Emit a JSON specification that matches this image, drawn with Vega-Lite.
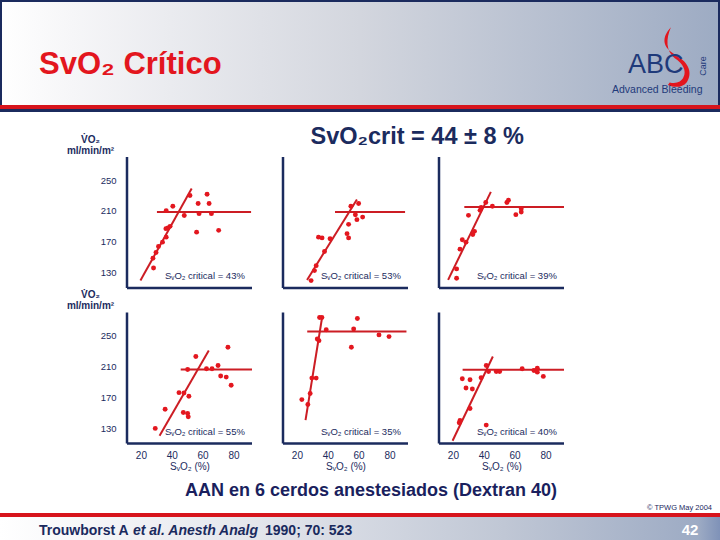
{
  "$schema": "https://vega.github.io/schema/vega-lite/v6.json",
  "padding": 0,
  "background": "white",
  "spacing": 0,
  "config": {
    "view": {"stroke": null},
    "font": "Liberation Sans",
    "concat": {"spacing": 0},
    "axis": {"domain": false, "grid": false, "labelFont": "Liberation Sans", "titleFont": "Liberation Sans", "labelColor": "#1b2b5e", "titleColor": "#1b2b5e", "tickColor": "#1b2b5e"}
  },
  "vconcat": [
    {
      "width": 720,
      "height": 124,
      "data": {"values": [{"title": "SvO₂ Crítico", "abc": "ABC", "care": "Care", "ab": "Advanced Bleeding"}]},
      "layer": [
        {
          "mark": {"type": "rect", "fill": {"gradient": "linear", "stops": [{"offset": 0, "color": "#ffffff"}, {"offset": 0.1, "color": "#f6f6f8"}, {"offset": 0.5, "color": "#d3d6de"}, {"offset": 1, "color": "#9dabc3"}]}},
          "encoding": {
            "x": {"datum": 0, "type": "quantitative", "scale": {"domain": [0, 720], "nice": false, "zero": false}, "axis": null},
            "x2": {"datum": 720},
            "y": {"datum": 0, "type": "quantitative", "scale": {"domain": [0, 124], "reverse": true, "nice": false, "zero": false}, "axis": null},
            "y2": {"datum": 105}
          }
        },
        {"mark": {"type": "rect", "fill": "#d7141c"}, "encoding": {"x": {"datum": 0}, "x2": {"datum": 720}, "y": {"datum": 105}, "y2": {"datum": 109}}},
        {"mark": {"type": "rect", "fill": "#1b2b5e"}, "encoding": {"x": {"datum": 0}, "x2": {"datum": 720}, "y": {"datum": 109}, "y2": {"datum": 112}}},
        {"mark": {"type": "rect", "fill": "#1b2b5e"}, "encoding": {"x": {"datum": 0}, "x2": {"datum": 720}, "y": {"datum": 0}, "y2": {"datum": 2}}},
        {"mark": {"type": "rect", "fill": "#1b2b5e"}, "encoding": {"x": {"datum": 0}, "x2": {"datum": 2}, "y": {"datum": 0}, "y2": {"datum": 105}}},
        {"mark": {"type": "rect", "fill": "#1b2b5e"}, "encoding": {"x": {"datum": 718}, "x2": {"datum": 720}, "y": {"datum": 0}, "y2": {"datum": 105}}},
        {
          "mark": {"type": "text", "align": "left", "baseline": "alphabetic", "fontSize": 31, "fontWeight": "bold", "color": "#e3161e", "font": "Liberation Sans"},
          "encoding": {"text": {"field": "title"}, "x": {"datum": 39}, "y": {"datum": 73.5}}
        },
        {
          "mark": {"type": "point", "shape": "M -0.27 -0.99 C -0.58 -0.65 -0.58 -0.33 -0.1 -0.06 C 0.36 0.2 0.45 0.56 0.26 0.84 C 0.1 1.04 -0.16 1.02 -0.37 0.93 L -0.31 0.85 C -0.1 0.9 0.08 0.84 0.15 0.67 C 0.26 0.45 0.13 0.22 -0.14 0.04 C -0.44 -0.2 -0.44 -0.6 -0.27 -0.99 Z", "size": 3600, "filled": true, "color": "#e3161e", "opacity": 1, "strokeWidth": 0},
          "encoding": {"x": {"datum": 679}, "y": {"datum": 57}}
        },
        {
          "mark": {"type": "text", "align": "left", "baseline": "alphabetic", "fontSize": 27, "color": "#1f3a7a", "font": "Liberation Sans"},
          "encoding": {"text": {"field": "abc"}, "x": {"datum": 628}, "y": {"datum": 73}}
        },
        {
          "mark": {"type": "text", "align": "center", "baseline": "middle", "angle": 270, "fontSize": 9, "color": "#1f3a7a", "font": "Liberation Sans"},
          "encoding": {"text": {"field": "care"}, "x": {"datum": 703}, "y": {"datum": 66}}
        },
        {
          "mark": {"type": "text", "align": "left", "baseline": "alphabetic", "fontSize": 10.5, "color": "#1f3a7a", "font": "Liberation Sans"},
          "encoding": {"text": {"field": "ab"}, "x": {"datum": 612}, "y": {"datum": 92.5}}
        }
      ]
    },
    {
      "hconcat": [
        {"width": 66, "height": 10, "data": {"values": [{}]}, "mark": {"type": "point", "opacity": 0}},
        {
          "data": {"values": [
            {"row": 1, "col": 1, "kind": "pt", "x": 28.2, "y": 136},
            {"row": 1, "col": 1, "kind": "pt", "x": 27.8, "y": 148.7},
            {"row": 1, "col": 1, "kind": "pt", "x": 29.8, "y": 156},
            {"row": 1, "col": 1, "kind": "pt", "x": 31.4, "y": 164},
            {"row": 1, "col": 1, "kind": "pt", "x": 34, "y": 169.5},
            {"row": 1, "col": 1, "kind": "pt", "x": 36.4, "y": 176},
            {"row": 1, "col": 1, "kind": "pt", "x": 36.2, "y": 187},
            {"row": 1, "col": 1, "kind": "pt", "x": 37.5, "y": 188},
            {"row": 1, "col": 1, "kind": "pt", "x": 38.9, "y": 190},
            {"row": 1, "col": 1, "kind": "pt", "x": 36.4, "y": 210.4},
            {"row": 1, "col": 1, "kind": "pt", "x": 40.7, "y": 216},
            {"row": 1, "col": 1, "kind": "pt", "x": 48.1, "y": 204},
            {"row": 1, "col": 1, "kind": "pt", "x": 51.8, "y": 230},
            {"row": 1, "col": 1, "kind": "pt", "x": 57.1, "y": 219.6},
            {"row": 1, "col": 1, "kind": "pt", "x": 57.7, "y": 206.5},
            {"row": 1, "col": 1, "kind": "pt", "x": 56.1, "y": 182.5},
            {"row": 1, "col": 1, "kind": "pt", "x": 62.9, "y": 231.7},
            {"row": 1, "col": 1, "kind": "pt", "x": 64.2, "y": 219.6},
            {"row": 1, "col": 1, "kind": "pt", "x": 65.7, "y": 206.5},
            {"row": 1, "col": 1, "kind": "pt", "x": 70.4, "y": 184.8},
            {"row": 1, "col": 1, "kind": "steep", "x": 19.7, "y": 119.6},
            {"row": 1, "col": 1, "kind": "steep", "x": 52.9, "y": 239},
            {"row": 1, "col": 1, "kind": "plateau", "x": 30.4, "y": 208.6},
            {"row": 1, "col": 1, "kind": "plateau", "x": 91.4, "y": 208.6},
            {"row": 1, "col": 1, "kind": "note", "label": "SᵥO₂ critical = 43%"},

            {"row": 1, "col": 2, "kind": "pt", "x": 29.2, "y": 119.6},
            {"row": 1, "col": 2, "kind": "pt", "x": 31.4, "y": 132.6},
            {"row": 1, "col": 2, "kind": "pt", "x": 32.5, "y": 139},
            {"row": 1, "col": 2, "kind": "pt", "x": 37.9, "y": 157.4},
            {"row": 1, "col": 2, "kind": "pt", "x": 34, "y": 176},
            {"row": 1, "col": 2, "kind": "pt", "x": 36.3, "y": 175},
            {"row": 1, "col": 2, "kind": "pt", "x": 41.5, "y": 174},
            {"row": 1, "col": 2, "kind": "pt", "x": 52.5, "y": 180.5},
            {"row": 1, "col": 2, "kind": "pt", "x": 53.5, "y": 175},
            {"row": 1, "col": 2, "kind": "pt", "x": 53.5, "y": 192.6},
            {"row": 1, "col": 2, "kind": "pt", "x": 55, "y": 216},
            {"row": 1, "col": 2, "kind": "pt", "x": 60, "y": 219.6},
            {"row": 1, "col": 2, "kind": "pt", "x": 57.9, "y": 205},
            {"row": 1, "col": 2, "kind": "pt", "x": 58.9, "y": 198.7},
            {"row": 1, "col": 2, "kind": "pt", "x": 62.6, "y": 202},
            {"row": 1, "col": 2, "kind": "steep", "x": 26.6, "y": 120.5},
            {"row": 1, "col": 2, "kind": "steep", "x": 58.9, "y": 224.8},
            {"row": 1, "col": 2, "kind": "plateau", "x": 44.7, "y": 208.5},
            {"row": 1, "col": 2, "kind": "plateau", "x": 90.1, "y": 208.5},
            {"row": 1, "col": 2, "kind": "note", "label": "SᵥO₂ critical = 53%"},

            {"row": 1, "col": 3, "kind": "pt", "x": 22.4, "y": 122.6},
            {"row": 1, "col": 3, "kind": "pt", "x": 22.4, "y": 134.8},
            {"row": 1, "col": 3, "kind": "pt", "x": 24.6, "y": 160.4},
            {"row": 1, "col": 3, "kind": "pt", "x": 26.1, "y": 172.6},
            {"row": 1, "col": 3, "kind": "pt", "x": 28.5, "y": 169.5},
            {"row": 1, "col": 3, "kind": "pt", "x": 32.9, "y": 179.5},
            {"row": 1, "col": 3, "kind": "pt", "x": 34, "y": 183.5},
            {"row": 1, "col": 3, "kind": "pt", "x": 30.1, "y": 204.3},
            {"row": 1, "col": 3, "kind": "pt", "x": 37.6, "y": 210.8},
            {"row": 1, "col": 3, "kind": "pt", "x": 38.3, "y": 214.4},
            {"row": 1, "col": 3, "kind": "pt", "x": 41.3, "y": 220.9},
            {"row": 1, "col": 3, "kind": "pt", "x": 45.6, "y": 216},
            {"row": 1, "col": 3, "kind": "pt", "x": 55, "y": 220.9},
            {"row": 1, "col": 3, "kind": "pt", "x": 56, "y": 224},
            {"row": 1, "col": 3, "kind": "pt", "x": 60.8, "y": 205.2},
            {"row": 1, "col": 3, "kind": "pt", "x": 64.3, "y": 208.6},
            {"row": 1, "col": 3, "kind": "pt", "x": 64.3, "y": 213},
            {"row": 1, "col": 3, "kind": "steep", "x": 16.9, "y": 120.5},
            {"row": 1, "col": 3, "kind": "steep", "x": 44.6, "y": 234.7},
            {"row": 1, "col": 3, "kind": "plateau", "x": 27.4, "y": 215},
            {"row": 1, "col": 3, "kind": "plateau", "x": 92, "y": 215},
            {"row": 1, "col": 3, "kind": "note", "label": "SᵥO₂ critical = 39%"},

            {"row": 2, "col": 1, "kind": "pt", "x": 29.3, "y": 129.6},
            {"row": 2, "col": 1, "kind": "pt", "x": 35.7, "y": 154.5},
            {"row": 2, "col": 1, "kind": "pt", "x": 44.7, "y": 176},
            {"row": 2, "col": 1, "kind": "pt", "x": 47.9, "y": 175.5},
            {"row": 2, "col": 1, "kind": "pt", "x": 51.1, "y": 171.3},
            {"row": 2, "col": 1, "kind": "pt", "x": 47.5, "y": 150.2},
            {"row": 2, "col": 1, "kind": "pt", "x": 50.3, "y": 149},
            {"row": 2, "col": 1, "kind": "pt", "x": 50.7, "y": 144.6},
            {"row": 2, "col": 1, "kind": "pt", "x": 50.3, "y": 206},
            {"row": 2, "col": 1, "kind": "pt", "x": 55.6, "y": 222.9},
            {"row": 2, "col": 1, "kind": "pt", "x": 62.5, "y": 207},
            {"row": 2, "col": 1, "kind": "pt", "x": 66.1, "y": 207},
            {"row": 2, "col": 1, "kind": "pt", "x": 70, "y": 211.3},
            {"row": 2, "col": 1, "kind": "pt", "x": 71.7, "y": 197.5},
            {"row": 2, "col": 1, "kind": "pt", "x": 75.3, "y": 196.2},
            {"row": 2, "col": 1, "kind": "pt", "x": 76.4, "y": 234.9},
            {"row": 2, "col": 1, "kind": "pt", "x": 78.5, "y": 185.5},
            {"row": 2, "col": 1, "kind": "steep", "x": 32.1, "y": 120.1},
            {"row": 2, "col": 1, "kind": "steep", "x": 64, "y": 230.6},
            {"row": 2, "col": 1, "kind": "plateau", "x": 45.8, "y": 206},
            {"row": 2, "col": 1, "kind": "plateau", "x": 92, "y": 206},
            {"row": 2, "col": 1, "kind": "note", "label": "SᵥO₂ critical = 55%"},

            {"row": 2, "col": 2, "kind": "pt", "x": 23.2, "y": 167},
            {"row": 2, "col": 2, "kind": "pt", "x": 27.1, "y": 160.6},
            {"row": 2, "col": 2, "kind": "pt", "x": 28.6, "y": 174.8},
            {"row": 2, "col": 2, "kind": "pt", "x": 29.7, "y": 194.9},
            {"row": 2, "col": 2, "kind": "pt", "x": 32.5, "y": 194.9},
            {"row": 2, "col": 2, "kind": "pt", "x": 33.2, "y": 245.7},
            {"row": 2, "col": 2, "kind": "pt", "x": 34.3, "y": 243.5},
            {"row": 2, "col": 2, "kind": "pt", "x": 34.7, "y": 273.6},
            {"row": 2, "col": 2, "kind": "pt", "x": 36.2, "y": 273.6},
            {"row": 2, "col": 2, "kind": "pt", "x": 39, "y": 257.7},
            {"row": 2, "col": 2, "kind": "pt", "x": 56.8, "y": 258.6},
            {"row": 2, "col": 2, "kind": "pt", "x": 59.2, "y": 272.3},
            {"row": 2, "col": 2, "kind": "pt", "x": 55.3, "y": 234.9},
            {"row": 2, "col": 2, "kind": "pt", "x": 73.2, "y": 250.9},
            {"row": 2, "col": 2, "kind": "pt", "x": 79.7, "y": 248.7},
            {"row": 2, "col": 2, "kind": "steep", "x": 25.6, "y": 140.3},
            {"row": 2, "col": 2, "kind": "steep", "x": 36.4, "y": 274.5},
            {"row": 2, "col": 2, "kind": "plateau", "x": 26.7, "y": 255.5},
            {"row": 2, "col": 2, "kind": "plateau", "x": 91, "y": 255.5},
            {"row": 2, "col": 2, "kind": "note", "label": "SᵥO₂ critical = 35%"},

            {"row": 2, "col": 3, "kind": "pt", "x": 24.1, "y": 136.8},
            {"row": 2, "col": 3, "kind": "pt", "x": 24.6, "y": 140},
            {"row": 2, "col": 3, "kind": "pt", "x": 41.6, "y": 133.9},
            {"row": 2, "col": 3, "kind": "pt", "x": 31.1, "y": 155.4},
            {"row": 2, "col": 3, "kind": "pt", "x": 28.5, "y": 182},
            {"row": 2, "col": 3, "kind": "pt", "x": 32.6, "y": 180.7},
            {"row": 2, "col": 3, "kind": "pt", "x": 26.1, "y": 194.1},
            {"row": 2, "col": 3, "kind": "pt", "x": 31.1, "y": 192.8},
            {"row": 2, "col": 3, "kind": "pt", "x": 38.3, "y": 195.4},
            {"row": 2, "col": 3, "kind": "pt", "x": 41.6, "y": 211.3},
            {"row": 2, "col": 3, "kind": "pt", "x": 43.1, "y": 203.5},
            {"row": 2, "col": 3, "kind": "pt", "x": 48.1, "y": 203.5},
            {"row": 2, "col": 3, "kind": "pt", "x": 50.3, "y": 203.5},
            {"row": 2, "col": 3, "kind": "pt", "x": 64.9, "y": 207},
            {"row": 2, "col": 3, "kind": "pt", "x": 72.5, "y": 204.8},
            {"row": 2, "col": 3, "kind": "pt", "x": 74.7, "y": 207.8},
            {"row": 2, "col": 3, "kind": "pt", "x": 74.7, "y": 202.6},
            {"row": 2, "col": 3, "kind": "pt", "x": 78.6, "y": 197.1},
            {"row": 2, "col": 3, "kind": "steep", "x": 19.8, "y": 113.6},
            {"row": 2, "col": 3, "kind": "steep", "x": 45.9, "y": 222.9},
            {"row": 2, "col": 3, "kind": "plateau", "x": 26.3, "y": 205.7},
            {"row": 2, "col": 3, "kind": "plateau", "x": 92, "y": 205.7},
            {"row": 2, "col": 3, "kind": "note", "label": "SᵥO₂ critical = 40%"}
          ]},
          "title": {"text": "SvO₂crit = 44 ± 8 %", "anchor": "middle", "dx": 100, "offset": -14, "fontSize": 23.5, "fontWeight": "bold", "color": "#1b2b5e", "font": "Liberation Sans"},
          "facet": {
            "row": {"field": "row", "type": "ordinal", "header": {"labels": false, "title": null}},
            "column": {"field": "col", "type": "ordinal", "header": {"labels": false, "title": null}}
          },
          "spacing": {"row": 20.5, "column": 25},
          "spec": {
            "width": 125,
            "height": 131,
            "layer": [
              {
                "transform": [{"filter": "datum.kind === 'note'"}],
                "mark": {"type": "rule", "color": "#1b2b5e", "strokeWidth": 2.5},
                "encoding": {"x": {"datum": 11, "type": "quantitative", "scale": {"domain": [11, 92], "nice": false, "zero": false}}}
              },
              {
                "transform": [{"filter": "datum.kind === 'note'"}],
                "mark": {"type": "rule", "color": "#1b2b5e", "strokeWidth": 2.5},
                "encoding": {"y": {"datum": 110, "type": "quantitative", "scale": {"domain": [110, 280], "nice": false, "zero": false}}}
              },
              {
                "transform": [{"filter": "datum.kind === 'steep' || datum.kind === 'plateau'"}],
                "mark": {"type": "line", "color": "#cc1d24", "strokeWidth": 2},
                "encoding": {
                  "x": {"field": "x", "type": "quantitative"},
                  "y": {"field": "y", "type": "quantitative"},
                  "detail": {"field": "kind"}
                }
              },
              {
                "transform": [{"filter": "datum.kind === 'pt'"}],
                "mark": {"type": "circle", "color": "#e3171f", "size": 24, "opacity": 1},
                "encoding": {
                  "x": {"field": "x", "type": "quantitative", "axis": {
                    "title": "SᵥO₂ (%)", "values": [20, 30, 40, 50, 60, 70, 80],
                    "labelExpr": "datum.value % 20 === 0 ? datum.label : ''",
                    "tickOpacity": {"condition": {"test": "datum.value % 20 === 0", "value": 0}, "value": 1},
                    "tickSize": 5, "tickWidth": 1.5, "labelFontSize": 10, "labelPadding": 0, "titleFontSize": 10, "titleFontWeight": "normal", "titlePadding": 1.5
                  }},
                  "y": {"field": "y", "type": "quantitative", "axis": {
                    "title": ["V̇O₂", "ml/min/m²"], "values": [130, 150, 170, 190, 210, 230, 250],
                    "labelExpr": "(datum.value - 130) % 40 === 0 ? datum.label : ''",
                    "tickOpacity": {"condition": {"test": "(datum.value - 130) % 40 === 0", "value": 0}, "value": 1},
                    "tickSize": 5, "tickWidth": 1.5, "labelFontSize": 9.5, "labelPadding": 4,
                    "titleAngle": 0, "titleAlign": "center", "titleBaseline": "alphabetic", "titleX": -35, "titleY": -15, "titleLineHeight": 11,
                    "titleFontSize": 10, "titleFontWeight": "bold"
                  }}
                }
              },
              {
                "transform": [{"filter": "datum.kind === 'note'"}],
                "mark": {"type": "text", "align": "center", "baseline": "middle", "fontSize": 9.5, "color": "#1b2b5e", "font": "Liberation Sans"},
                "encoding": {"text": {"field": "label"}, "x": {"datum": 61.5}, "y": {"datum": 125}}
              }
            ]
          }
        }
      ]
    },
    {
      "width": 720,
      "height": 70,
      "data": {"values": [{"cap": "AAN en 6 cerdos anestesiados (Dextran 40)", "copy": "© TPWG May 2004", "a": "Trouwborst A", "b": "et al. Anesth Analg", "c": "1990; 70: 523", "page": "42"}]},
      "layer": [
        {
          "mark": {"type": "rect", "fill": {"gradient": "linear", "stops": [{"offset": 0, "color": "#ffffff"}, {"offset": 0.35, "color": "#e4e6ec"}, {"offset": 0.7, "color": "#c0c7d5"}, {"offset": 0.97, "color": "#9dabc4"}, {"offset": 1, "color": "#7f92b8"}]}},
          "encoding": {
            "x": {"datum": 0, "type": "quantitative", "scale": {"domain": [0, 720], "nice": false, "zero": false}, "axis": null},
            "x2": {"datum": 720},
            "y": {"datum": 45, "type": "quantitative", "scale": {"domain": [0, 70], "reverse": true, "nice": false, "zero": false}, "axis": null},
            "y2": {"datum": 70}
          }
        },
        {"mark": {"type": "rect", "fill": "#d7141c"}, "encoding": {"x": {"datum": 0}, "x2": {"datum": 720}, "y": {"datum": 41}, "y2": {"datum": 45}}},
        {
          "mark": {"type": "text", "align": "center", "baseline": "alphabetic", "fontSize": 18, "fontWeight": "bold", "color": "#1a1f5e", "font": "Liberation Sans"},
          "encoding": {"text": {"field": "cap"}, "x": {"datum": 371}, "y": {"datum": 24}}
        },
        {
          "mark": {"type": "text", "align": "right", "baseline": "alphabetic", "fontSize": 7.5, "color": "#1a1f5e", "font": "Liberation Sans"},
          "encoding": {"text": {"field": "copy"}, "x": {"datum": 712}, "y": {"datum": 38}}
        },
        {
          "mark": {"type": "text", "align": "left", "baseline": "alphabetic", "fontSize": 14, "fontWeight": "bold", "color": "#1a2a5e", "font": "Liberation Sans"},
          "encoding": {"text": {"field": "a"}, "x": {"datum": 39}, "y": {"datum": 63}}
        },
        {
          "mark": {"type": "text", "align": "left", "baseline": "alphabetic", "fontSize": 14, "fontWeight": "bold", "fontStyle": "italic", "color": "#1a2a5e", "font": "Liberation Sans"},
          "encoding": {"text": {"field": "b"}, "x": {"datum": 133}, "y": {"datum": 63}}
        },
        {
          "mark": {"type": "text", "align": "left", "baseline": "alphabetic", "fontSize": 14, "fontWeight": "bold", "color": "#1a2a5e", "font": "Liberation Sans"},
          "encoding": {"text": {"field": "c"}, "x": {"datum": 265}, "y": {"datum": 63}}
        },
        {
          "mark": {"type": "text", "align": "center", "baseline": "alphabetic", "fontSize": 15, "fontWeight": "bold", "color": "#ffffff", "font": "Liberation Sans"},
          "encoding": {"text": {"field": "page"}, "x": {"datum": 690}, "y": {"datum": 63}}
        }
      ]
    }
  ]
}
